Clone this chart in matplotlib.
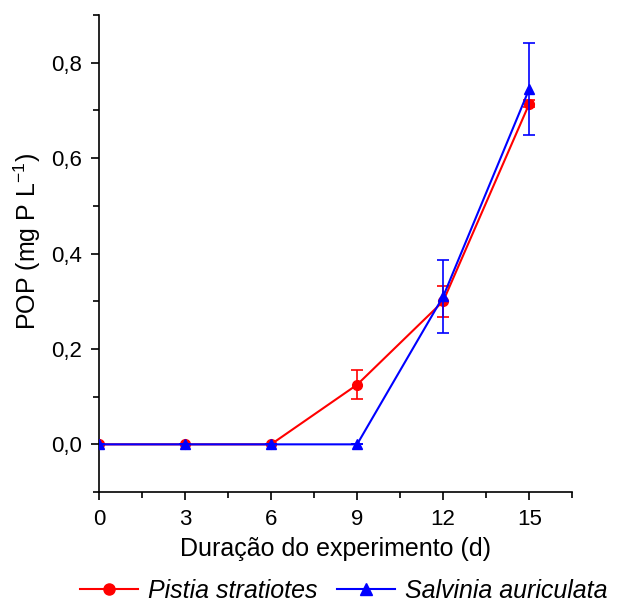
import matplotlib
matplotlib.use("Agg")
import matplotlib.pyplot as plt
from matplotlib.ticker import MultipleLocator, FuncFormatter
from matplotlib.lines import Line2D

plt.rcParams['font.family'] = ['Liberation Sans', 'DejaVu Sans']
plt.rcParams['mathtext.fontset'] = 'custom'
plt.rcParams['mathtext.rm'] = 'Liberation Sans'

days = [0, 3, 6, 9, 12, 15]
pistia = [0, 0, 0, 0.125, 0.300, 0.714]
pistia_err = [0, 0, 0, 0.030, 0.033, 0.007]
salvinia = [0, 0, 0, 0, 0.310, 0.745]
salvinia_err = [0, 0, 0, 0, 0.076, 0.097]

fig = plt.figure(figsize=(6.18, 6.03), dpi=100)
ax = fig.add_axes([0.160, 0.184, 0.766, 0.791])

red = '#ff0000'
blue = '#0000ff'
ax.errorbar(days, pistia, yerr=pistia_err, color=red, marker='o', markersize=7,
            lw=1.5, capsize=4, elinewidth=1.2, capthick=1.2, zorder=3)
ax.errorbar(days, salvinia, yerr=salvinia_err, color=blue, marker='^', markersize=7.5,
            lw=1.5, capsize=4, elinewidth=1.2, capthick=1.2, zorder=4)

ax.set_xlim(0, 16.5)
ax.set_ylim(-0.1, 0.9)
ax.spines['top'].set_visible(False)
ax.spines['right'].set_visible(False)
for s in ['left', 'bottom']:
    ax.spines[s].set_linewidth(1.2)
ax.xaxis.set_major_locator(MultipleLocator(3))
ax.xaxis.set_minor_locator(MultipleLocator(1.5))
ax.yaxis.set_major_locator(MultipleLocator(0.2))
ax.yaxis.set_minor_locator(MultipleLocator(0.1))
ax.yaxis.set_major_formatter(FuncFormatter(lambda v, p: f"{v:.1f}".replace('.', ',').replace('-0,0', '0,0')))
ax.tick_params(which='major', direction='out', length=6, width=1.2, labelsize=16, pad=6)
ax.tick_params(which='minor', direction='out', length=4, width=1.2)

ax.set_xlabel('Duração do experimento (d)', fontsize=18, va='center')
ax.xaxis.set_label_coords(0.499, -0.119)
ax.set_ylabel('POP (mg P L$^{\\mathregular{-1}}$)', fontsize=18, va='center')
ax.yaxis.set_label_coords(-0.152, 0.526)

handles = [Line2D([], [], color=red, marker='o', markersize=8, lw=1.5),
           Line2D([], [], color=blue, marker='^', markersize=8, lw=1.5)]
fig.legend(handles, ['Pistia stratiotes', 'Salvinia auriculata'], loc='center',
           bbox_to_anchor=(0.556, 0.020), ncol=2, frameon=False,
           handlelength=2.3, columnspacing=0.8, handletextpad=0.4,
           prop={'style': 'italic', 'size': 18})

fig.savefig('out.png', dpi=100)
